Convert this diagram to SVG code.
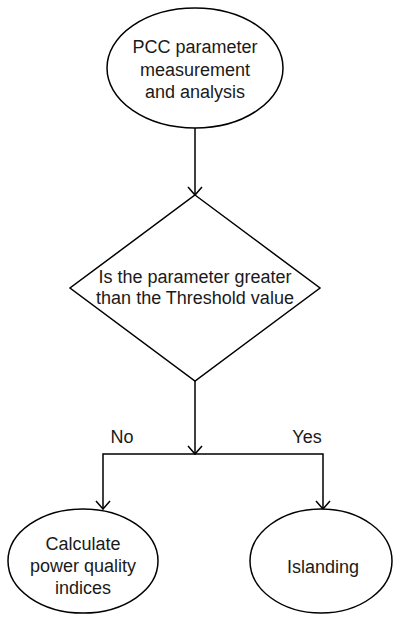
<svg xmlns="http://www.w3.org/2000/svg" width="394" height="618" viewBox="0 0 394 618">
  <style>
    .shape { fill: #ffffff; stroke: #000000; stroke-width: 1.5; }
    .edge { fill: none; stroke: #000000; stroke-width: 1.5; }
    .label { font-family: "Liberation Sans", Arial, sans-serif; font-size: 18px; fill: #1a1a1a; text-anchor: middle; }
  </style>
  <defs>
    <!-- open V arrowhead, tip on the line end -->
    <marker id="arrow" viewBox="0 0 12 16" refX="10" refY="8" markerWidth="12" markerHeight="16" markerUnits="userSpaceOnUse" orient="auto">
      <path d="M2,1 L10,8 L2,15" fill="none" stroke="#000000" stroke-width="1.5"/>
    </marker>
  </defs>
  <rect width="394" height="618" fill="#ffffff"/>

  <g id="connectors">
    <path class="edge" d="M195,128 L195,195" marker-end="url(#arrow)"/>
    <path class="edge" d="M195,381 L195,454" marker-end="url(#arrow)"/>
    <path class="edge" d="M195,454 L103,454 L103,509" marker-end="url(#arrow)"/>
    <path class="edge" d="M195,454 L323,454 L323,509" marker-end="url(#arrow)"/>
    <text class="label" x="122" y="443">No</text>
    <text class="label" x="307" y="443">Yes</text>
  </g>

  <g id="start">
    <ellipse class="shape" cx="195" cy="68" rx="88" ry="60"/>
    <text class="label" x="195" y="53">PCC parameter</text>
    <text class="label" x="195" y="76">measurement</text>
    <text class="label" x="195" y="98">and analysis</text>
  </g>

  <g id="decision">
    <polygon class="shape" points="195,195 320,288 195,381 70,288"/>
    <text class="label" x="195" y="283">Is the parameter greater</text>
    <text class="label" x="195" y="304">than the Threshold value</text>
  </g>

  <g id="quality">
    <ellipse class="shape" cx="83" cy="561" rx="75" ry="52"/>
    <text class="label" x="83" y="550">Calculate</text>
    <text class="label" x="83" y="572">power quality</text>
    <text class="label" x="83" y="594">indices</text>
  </g>

  <g id="islanding">
    <ellipse class="shape" cx="321" cy="561" rx="71" ry="52"/>
    <text class="label" x="323" y="573">Islanding</text>
  </g>
</svg>
